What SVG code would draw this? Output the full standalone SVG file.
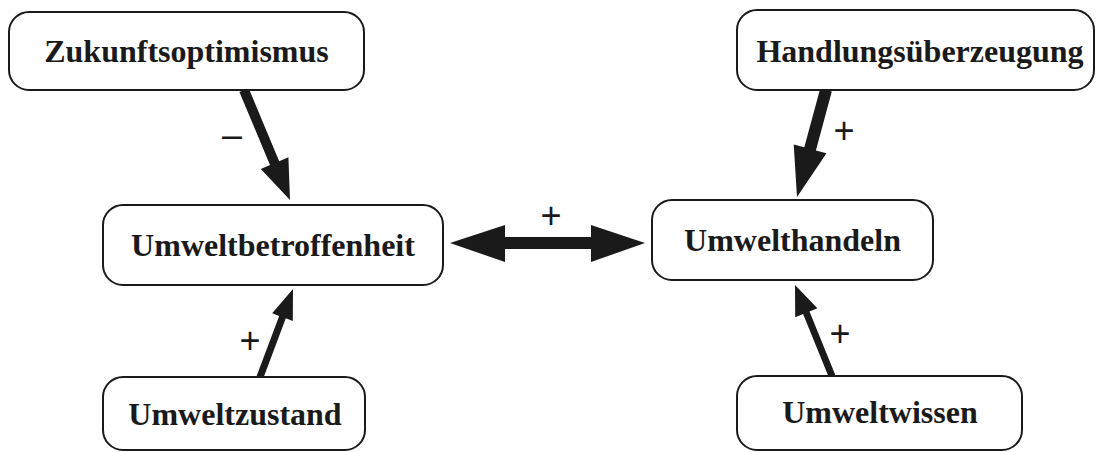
<svg xmlns="http://www.w3.org/2000/svg" width="1097" height="452" viewBox="0 0 1097 452">
<style>
.box{fill:#fff;stroke:#1a1a1a;stroke-width:2}
.t{font-family:"Liberation Serif","Times New Roman",serif;font-weight:bold;font-size:32px;fill:#1a1a1a;text-anchor:middle}
.lbl{font-family:"Liberation Sans",Arial,sans-serif;font-size:36px;fill:#1a1a1a;text-anchor:middle}
.arr{fill:#1a1a1a;stroke:none}
</style>
<rect width="1097" height="452" fill="#fff"/>
<g id="connectors">
<polygon class="arr" points="239.4,91.9 270,165 260.8,168.9 290,200 288.4,157.3 279.2,161.2 248.6,88.1"/>
<polygon class="arr" points="820.2,88.4 804.3,147.2 793.7,144.4 797,197 826.5,153.2 815.9,150.4 831.8,91.6"/>
<polygon class="arr" points="256.7,375.8 279.2,315.9 272.2,313.2 293,289 292.8,321 285.8,318.3 263.3,378.2"/>
<polygon class="arr" points="828.8,377.3 803.1,314.1 795.2,317.3 795,285 817.4,308.3 809.5,311.5 835.2,374.7"/>
<polygon class="arr" points="450,243 505,225 505,237 591,237 591,225 645,243 591,262 591,249 505,249 505,262"/>
<text class="lbl" x="232" y="147">–</text>
<text class="lbl" x="844" y="143">+</text>
<text class="lbl" x="551" y="228">+</text>
<text class="lbl" x="250" y="353">+</text>
<text class="lbl" x="840" y="346">+</text>
</g>
<g id="zukunftsoptimismus">
<rect class="box" x="9" y="12" width="355" height="78" rx="20"/>
<text class="t" x="186.5" y="62">Zukunftsoptimismus</text>
</g>
<g id="handlungsueberzeugung">
<rect class="box" x="737" y="10" width="357" height="80" rx="20"/>
<text class="t" x="920" y="62">Handlungsüberzeugung</text>
</g>
<g id="umweltbetroffenheit">
<rect class="box" x="103" y="205" width="340" height="80" rx="20"/>
<text class="t" x="273" y="256">Umweltbetroffenheit</text>
</g>
<g id="umwelthandeln">
<rect class="box" x="652" y="200" width="281" height="80" rx="20"/>
<text class="t" x="792.5" y="251">Umwelthandeln</text>
</g>
<g id="umweltzustand">
<rect class="box" x="103" y="377" width="262" height="73" rx="20"/>
<text class="t" x="235" y="425">Umweltzustand</text>
</g>
<g id="umweltwissen">
<rect class="box" x="737" y="376" width="285" height="74" rx="20"/>
<text class="t" x="880" y="423">Umweltwissen</text>
</g>
</svg>
